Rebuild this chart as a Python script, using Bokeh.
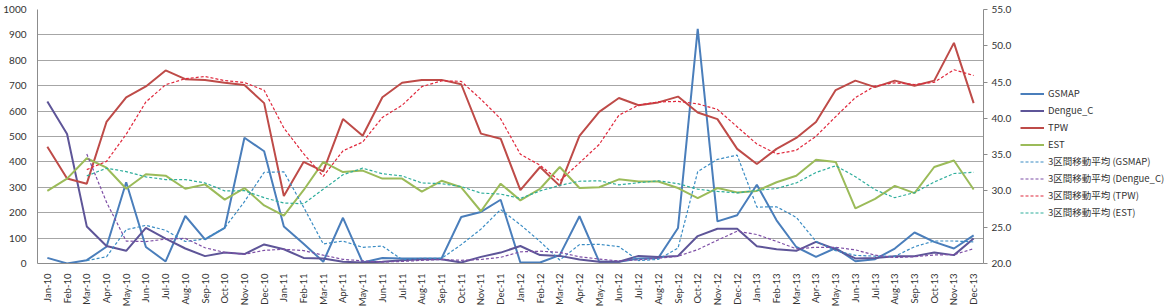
import numpy as np
from bokeh.plotting import figure
from bokeh.layouts import row
from bokeh.models import (FactorRange, Range1d, LinearAxis, Legend, LegendItem,
                          FixedTicker, NumeralTickFormatter)
from bokeh.embed import file_html
from bokeh.resources import INLINE

months = ["Jan-10", "Feb-10", "Mar-10", "Apr-10", "May-10", "Jun-10", "Jul-10", "Aug-10", "Sep-10", "Oct-10", "Nov-10", "Dec-10",
          "Jan-11", "Feb-11", "Mar-11", "Apr-11", "May-11", "Jun-11", "Jul-11", "Aug-11", "Sep-11", "Oct-11", "Nov-11", "Dec-11",
          "Jan-12", "Feb-12", "Mar-12", "Apr-12", "May-12", "Jun-12", "Jul-12", "Aug-12", "Sep-12", "Oct-12", "Nov-12", "Dec-12",
          "Jan-13", "Feb-13", "Mar-13", "Apr-13", "May-13", "Jun-13", "Jul-13", "Aug-13", "Sep-13", "Oct-13", "Nov-13", "Dec-13"]

# left axis series
gsmap = [22, 0, 13, 66, 320, 65, 8, 187, 95, 140, 495, 442,
         146, 78, 7, 180, 4, 22, 20, 20, 20, 183, 203, 251,
         4, 4, 33, 186, 7, 7, 20, 22, 140, 924, 166, 190,
         310, 170, 65, 26, 61, 9, 17, 59, 122, 85, 59, 111]
dengue_c = [638, 510, 146, 69, 50, 140, 98, 59, 29, 43, 37, 75,
            56, 22, 20, 7, 4, 7, 13, 17, 17, 4, 26, 43,
            69, 33, 30, 16, 7, 7, 30, 26, 30, 108, 137, 137,
            68, 56, 50, 85, 56, 20, 22, 29, 29, 43, 33, 98]
# right axis series
tpw = [36.1, 31.7, 31.0, 39.5, 42.9, 44.4, 46.6, 45.4, 45.3, 44.9, 44.6, 42.1,
       29.3, 34.0, 32.7, 39.9, 37.6, 42.9, 44.9, 45.3, 45.3, 44.7, 37.9, 37.2,
       30.1, 33.3, 30.7, 37.6, 40.9, 42.8, 41.8, 42.2, 43.0, 40.8, 39.9, 35.8,
       33.7, 35.8, 37.3, 39.5, 43.9, 45.2, 44.3, 45.2, 44.5, 45.2, 50.4, 42.1]
est = [30.0, 31.7, 34.5, 33.2, 30.3, 32.3, 32.1, 30.3, 30.9, 28.8, 30.4, 28.0,
       26.6, 30.1, 34.0, 32.6, 32.8, 31.7, 31.7, 29.9, 31.4, 30.5, 27.2, 31.0,
       28.7, 30.3, 33.3, 30.4, 30.5, 31.6, 31.3, 31.3, 30.4, 29.0, 30.4, 29.8,
       30.0, 31.2, 32.1, 34.3, 34.0, 27.6, 28.9, 30.7, 29.7, 33.3, 34.2, 30.2]

left_ticks = [0, 100, 200, 300, 400, 500, 600, 700, 800, 900, 1000]
right_ticks = [20, 25, 30, 35, 40, 45, 50, 55]

series_names = ["GSMAP", "Dengue_C", "TPW", "EST"]
ma_labels = ["3区間移動平均 (GSMAP)", "3区間移動平均 (Dengue_C)", "3区間移動平均 (TPW)", "3区間移動平均 (EST)"]


def moving_avg(v, n=3):
    a = np.convolve(np.asarray(v, dtype=float), np.ones(n) / n, mode="valid")
    return list(a)


FONT = "Lato"
p = figure(frame_width=946, frame_height=254,
           x_range=FactorRange(*months, range_padding=0),
           y_range=Range1d(0, 1000),
           output_backend="svg", toolbar_location=None,
           min_border_left=29, min_border_right=0, min_border_top=9, min_border_bottom=35)
p.extra_y_ranges = {"r": Range1d(20, 55)}
p.outline_line_color = None
p.background_fill_color = "white"
p.border_fill_color = "white"

p.xgrid.grid_line_color = None
p.ygrid.ticker = FixedTicker(ticks=left_ticks)
p.ygrid.grid_line_color = "#A6A6A6"
p.ygrid.grid_line_width = 1

yax = p.yaxis[0]
yax.ticker = FixedTicker(ticks=left_ticks)
yax.axis_line_color = "#8C8C8C"
yax.major_tick_line_color = None
yax.minor_tick_line_color = None
yax.major_label_text_font = FONT
yax.major_label_text_font_size = "10px"
yax.major_label_text_color = "#333333"
yax.major_label_standoff = 5

xax = p.xaxis[0]
xax.axis_line_color = "#8C8C8C"
xax.major_tick_line_color = None
xax.major_label_orientation = np.pi / 2
xax.major_label_text_font = FONT
xax.major_label_text_font_size = "9.5px"
xax.major_label_text_color = "#333333"
xax.major_label_standoff = 4

rax = LinearAxis(y_range_name="r", ticker=FixedTicker(ticks=right_ticks),
                 formatter=NumeralTickFormatter(format="0.0"))
rax.axis_line_color = "#8C8C8C"
rax.major_tick_line_color = "#8C8C8C"
rax.major_tick_out = 4
rax.major_tick_in = 0
rax.minor_tick_line_color = None
rax.major_label_text_font = FONT
rax.major_label_text_font_size = "10px"
rax.major_label_text_color = "#333333"
rax.major_label_standoff = 4
p.add_layout(rax, "right")

solid_colors = ["#4A7EBB", "#5E5598", "#BE4B48", "#9BBB59"]
dash_colors = ["#3A8CC4", "#7E4FA6", "#E0283C", "#2FAE9C"]
data = [gsmap, dengue_c, tpw, est]
ranges = ["default", "default", "r", "r"]

for vals, c, rn in zip(data, solid_colors, ranges):
    p.line(months, vals, line_color=c, line_width=2, y_range_name=rn)
for vals, c, rn in zip(data, dash_colors, ranges):
    ma = moving_avg(vals)
    p.line(months[2:], ma, line_color=c, line_width=1.2, line_dash="3 2", y_range_name=rn)

# legend panel (separate figure so the legend can sit right of the right axis)
q = figure(width=160, height=292, x_range=Range1d(0, 1), y_range=Range1d(0, 1),
           x_axis_type=None, y_axis_type=None, output_backend="svg", toolbar_location=None,
           min_border=0)
q.outline_line_color = None
q.xgrid.grid_line_color = None
q.ygrid.grid_line_color = None
q.background_fill_color = "white"
q.border_fill_color = "white"

items = []
for n, c in zip(series_names, solid_colors):
    r = q.line([-5, -4], [-5, -4], line_color=c, line_width=2)
    items.append(LegendItem(label=n, renderers=[r]))
for n, c in zip(ma_labels, dash_colors):
    r = q.line([-5, -4], [-5, -4], line_color=c, line_width=1.2, line_dash="3 2")
    items.append(LegendItem(label=n, renderers=[r]))

legend = Legend(items=items, location=(6, 27))
legend.border_line_color = None
legend.background_fill_alpha = 0
legend.label_text_font = "Noto Sans CJK JP"
legend.label_text_font_size = "9.5px"
legend.label_text_color = "#333333"
legend.glyph_width = 24
legend.glyph_height = 13
legend.label_height = 13
legend.label_standoff = 4
legend.spacing = 3
legend.padding = 0
legend.margin = 0
q.add_layout(legend, "center")

open("out.html", "w").write(file_html(row(p, q), INLINE))
